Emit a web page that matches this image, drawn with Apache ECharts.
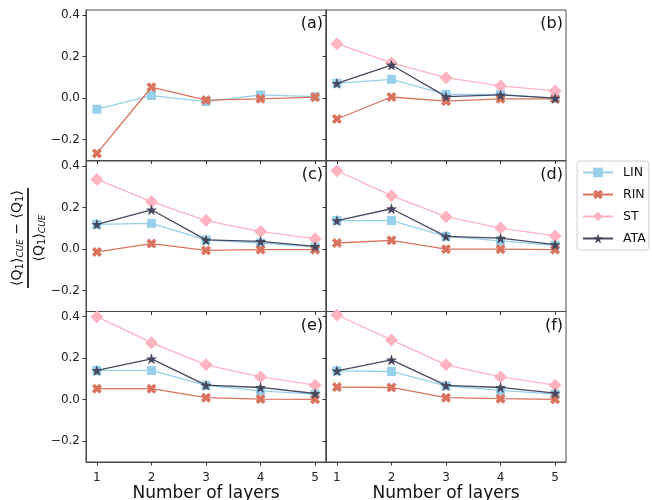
<!DOCTYPE html>
<html>
<head>
<meta charset="utf-8">
<script src="https://cdn.jsdelivr.net/npm/echarts@6/dist/echarts.min.js"></script>
<style>html,body{margin:0;padding:0;background:#fff}#c{width:652px;height:500px}</style>
</head>
<body>
<div id="c"></div>
<script>
// ---- data ----
const layers = [1, 2, 3, 4, 5];
const yTicks = [-0.2, 0.0, 0.2, 0.4];
const panelLabels = ['(a)', '(b)', '(c)', '(d)', '(e)', '(f)'];
const seriesNames = ['LIN', 'RIN', 'ST', 'ATA'];

const linA = [-0.053, 0.013, -0.016, 0.016, 0.008];
const rinA = [-0.266, 0.053, -0.009, -0.003, 0.005];

const linB = [0.072, 0.091, 0.019, 0.019, 0.000];
const rinB = [-0.100, 0.006, -0.014, -0.003, -0.003];
const stB  = [0.263, 0.170, 0.099, 0.059, 0.035];
const ataB = [0.072, 0.160, 0.008, 0.016, 0.000];

const linC = [0.120, 0.125, 0.045, 0.030, 0.011];
const rinC = [-0.013, 0.027, -0.006, -0.002, -0.002];
const stC  = [0.336, 0.229, 0.138, 0.085, 0.051];
const ataC = [0.120, 0.190, 0.045, 0.038, 0.014];

const linD = [0.138, 0.138, 0.062, 0.040, 0.019];
const rinD = [0.030, 0.043, 0.000, 0.000, -0.002];
const stD  = [0.378, 0.258, 0.157, 0.102, 0.064];
const ataD = [0.138, 0.195, 0.062, 0.053, 0.022];

const linE = [0.141, 0.141, 0.069, 0.043, 0.027];
const rinE = [0.053, 0.053, 0.010, 0.003, 0.002];
const stE  = [0.400, 0.275, 0.168, 0.110, 0.070];
const ataE = [0.141, 0.197, 0.070, 0.059, 0.030];

const linF = [0.139, 0.136, 0.067, 0.045, 0.027];
const rinF = [0.061, 0.059, 0.010, 0.005, 0.002];
const stF  = [0.408, 0.288, 0.168, 0.110, 0.070];
const ataF = [0.139, 0.192, 0.069, 0.059, 0.032];

const panels = [
  {LIN: linA, RIN: rinA},
  {LIN: linB, RIN: rinB, ST: stB, ATA: ataB},
  {LIN: linC, RIN: rinC, ST: stC, ATA: ataC},
  {LIN: linD, RIN: rinD, ST: stD, ATA: ataD},
  {LIN: linE, RIN: rinE, ST: stE, ATA: ataE},
  {LIN: linF, RIN: rinF, ST: stF, ATA: ataF}
];

// ---- styles ----
const FONT = 'DejaVu Sans';
const colors = {LIN: '#96d0eb', RIN: '#d9735e', ST: '#ffb3c0', ATA: '#474a5e'};
function starPath() {
  let d = '';
  for (let k = 0; k < 10; k++) {
    const r = k % 2 === 0 ? 50 : 20;
    const a = -Math.PI / 2 + k * Math.PI / 5;
    const x = (50 + r * Math.cos(a)).toFixed(2), y = (50 + r * Math.sin(a)).toFixed(2);
    d += (k === 0 ? 'M' : 'L') + x + ',' + y;
  }
  return 'path://' + d + 'Z';
}
const xPath = 'path://M2.6,0L5,2.4L7.4,0L10,2.6L7.6,5L10,7.4L7.4,10L5,7.6L2.6,10L0,7.4L2.4,5L0,2.6Z';
const symbols = {
  LIN: {symbol: 'rect', size: 9},
  RIN: {symbol: xPath, size: 10},
  ST: {symbol: 'diamond', size: 13},
  ATA: {symbol: starPath(), size: 11}
};

const tops = [10, 161, 311.5];
const lefts = [86, 326];
const W = 240, H = 150.5;

const grids = [], xAxes = [], yAxes = [], series = [], graphics = [];
for (let i = 0; i < 6; i++) {
  const row = Math.floor(i / 2), col = i % 2;
  grids.push({left: lefts[col], top: tops[row], width: W, height: H,
    containLabel: false, outerBoundsMode: 'none',
    show: true, borderColor: '#4a4a4a', borderWidth: 1, backgroundColor: 'transparent'});
  xAxes.push({
    type: 'value', gridIndex: i, min: 0.8, max: 5.2,
    axisLine: {show: true, onZero: false, lineStyle: {color: '#4a4a4a', width: 1}},
    axisTick: {show: true, customValues: layers, length: 3.5, lineStyle: {color: '#333'}},
    axisLabel: {show: row === 2, customValues: layers, fontFamily: FONT, fontSize: 12, color: '#222', margin: 10,
      formatter: v => String(v)},
    splitLine: {show: false},
    name: row === 2 ? 'Number of layers' : '',
    nameLocation: 'middle', nameGap: 21,
    nameTextStyle: {fontFamily: FONT, fontSize: 17, color: '#111'}
  });
  yAxes.push({
    type: 'value', gridIndex: i, min: -0.3, max: 0.425,
    axisLine: {show: true, onZero: false, lineStyle: {color: '#4a4a4a', width: 1}},
    axisTick: {show: true, customValues: yTicks, length: 3.5, lineStyle: {color: '#333'}},
    axisLabel: {show: col === 0, customValues: yTicks, fontFamily: FONT, fontSize: 12, color: '#222', margin: 6,
      formatter: v => v.toFixed(1).replace('-', '\u2212')},
    splitLine: {show: false}
  });
  seriesNames.forEach((nm, k) => {
    const vals = panels[i][nm];
    if (!vals) return;
    series.push({
      type: 'line', name: nm, xAxisIndex: i, yAxisIndex: i,
      data: layers.map((x, j) => [x, vals[j]]),
      symbol: symbols[nm].symbol, symbolSize: symbols[nm].size,
      lineStyle: {color: colors[nm], width: 1.3},
      itemStyle: {color: colors[nm], borderWidth: 0},
      showAllSymbol: true, animation: false, z: 2 + k,
      emphasis: {disabled: true}
    });
  });
  graphics.push({
    type: 'text', x: lefts[col] + W - 3, y: tops[row] + 14,
    style: {text: panelLabels[i], fontFamily: FONT, fontSize: 16, fill: '#111', align: 'right', verticalAlign: 'middle'}
  });
}

// y-axis fraction label
const richSub = {
  s: {fontFamily: FONT, fontSize: 10, fill: '#111', verticalAlign: 'bottom', padding: [6, 0, 0, 0]},
  sub: {fontFamily: FONT, fontSize: 9, fontStyle: 'italic', fill: '#111', verticalAlign: 'bottom', padding: [7, 0, 0, 0]}
};
graphics.push({
  type: 'group', x: 28, y: 238, rotation: Math.PI / 2,
  children: [
    {type: 'line', shape: {x1: -50, y1: 0, x2: 50, y2: 0}, style: {stroke: '#000', lineWidth: 1.6}},
    {type: 'text', x: 0, y: -11, style: {
      text: '\u27e8Q{s|1}\u27e9{sub|CUE} \u2212 \u27e8Q{s|1}\u27e9',
      fontFamily: FONT, fontSize: 14, fill: '#111', align: 'center', verticalAlign: 'middle', rich: richSub}},
    {type: 'text', x: 0, y: 11, style: {
      text: '\u27e8Q{s|1}\u27e9{sub|CUE}',
      fontFamily: FONT, fontSize: 14, fill: '#111', align: 'center', verticalAlign: 'middle', rich: richSub}}
  ]
});

const chart = echarts.init(document.getElementById('c'), null, {renderer: 'canvas'});
chart.setOption({
  animation: false,
  grid: grids, xAxis: xAxes, yAxis: yAxes, series: series,
  legend: {
    data: seriesNames, orient: 'vertical', left: 577, top: 161,
    itemWidth: 30, itemHeight: 12, itemGap: 9,
    padding: [5, 3, 5, 5],
    borderColor: '#d0d0d0', borderWidth: 1, borderRadius: 3,
    textStyle: {fontFamily: FONT, fontSize: 12.5, color: '#111', padding: [0, 0, 0, 5]},
    selectedMode: false
  },
  graphic: graphics
});
</script>
</body>
</html>
